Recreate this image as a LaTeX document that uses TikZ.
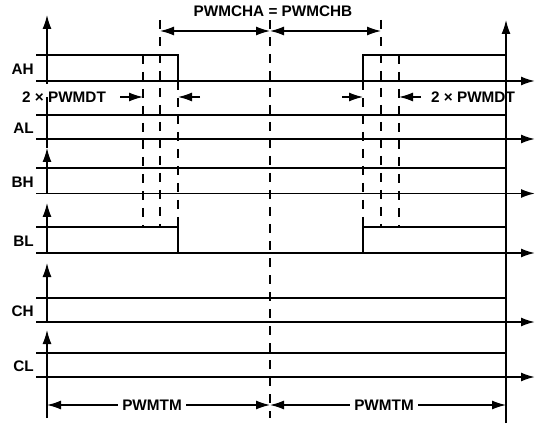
\documentclass[tikz,border=0pt]{standalone}
\usepackage{fontspec}
\setmainfont{Liberation Sans}
\usetikzlibrary{arrows.meta}
\begin{document}
\begin{tikzpicture}[x=1pt,y=-1pt,
  font=\fontsize{15.3}{18}\selectfont\bfseries,
  sig/.style={line width=2.5pt, line join=miter},
  baseln/.style={line width=1.9pt, -{Latex[length=14pt,width=9pt]}},
  axis/.style={line width=1.4pt},
  axtip/.style={line width=1.4pt, -{Latex[length=14pt,width=9pt]}},
  dline/.style={line width=1.4pt, dash pattern=on 9pt off 8pt},
  dim/.style={line width=1.4pt, {Latex[length=14pt,width=9pt]}-{Latex[length=14pt,width=9pt]}},
  ptr/.style={line width=1.4pt, -{Latex[length=14pt,width=9pt]}},
  lbl/.style={inner sep=0pt, text height=10.9pt, text depth=0pt},
  wlbl/.style={lbl, fill=white, inner xsep=4pt, inner ysep=2pt},
]
\useasboundingbox (0,0) rectangle (536,425);

% rows: high / low lines
\foreach \n/\h/\l in {AH/55/81, AL/115/139, BH/168/193.5, BL/227/253, CH/298/322, CL/353/377} {
  \draw[baseln] (36,\l) -- (535,\l);
  \node[lbl, anchor=east] (lab\n) at (34,{(\h+\l)/2+1.5}) {\n};
}
% signals
\draw[sig] (36,55) -- (178,55) -- (178,81) -- (363,81) -- (363,55) -- (506,55);
\draw[sig] (36,227) -- (178,227) -- (178,253) -- (363,253) -- (363,227) -- (506,227);
\foreach \h in {115,168,298,353} \draw[sig] (36,\h) -- (506,\h);

% left axis segments
\draw[axtip] (47,84) -- (47,15);
\draw[axis] (47,97) -- (47,148);
\draw[axtip] (47,193.5) -- (47,148);
\draw[axtip] (47,253) -- (47,203);
\draw[axtip] (47,322) -- (47,263);
\draw[axtip] (47,418) -- (47,330);

% right vertical
\draw[axtip] (506,423) -- (506,20);

% dashed verticals
\draw[dline] (143,55) -- (143,227);
\draw[dline] (160,20) -- (160,227);
\draw[dline] (178,81) -- (178,227);
\draw[dline] (270,20) -- (270,418);
\draw[dline] (363,81) -- (363,227);
\draw[dline] (381,20) -- (381,227);
\draw[dline] (399,55) -- (399,227);

% PWMCHA = PWMCHB
\node[lbl] (chab) at (273,11) {PWMCHA = PWMCHB};
\coordinate (ca) at (160,31);
\coordinate (cm) at (270,31);
\coordinate (cb) at (381,31);
\draw[dim] (ca) -- (cm);
\draw[dim] (cm) -- (cb);

% dead time
\node[lbl] (dtl) at (64,97) {2 × PWMDT};
\node[lbl] (dtr) at (473,97) {2 × PWMDT};
\draw[ptr] (120,97) -- (143,97);
\draw[ptr] (200,97) -- (178,97);
\draw[ptr] (342,97) -- (363,97);
\draw[ptr] (421,97) -- (399,97);

% PWMTM
\coordinate (tl) at (47,405);
\coordinate (tm) at (270,405);
\coordinate (tr) at (506,405);
\draw[dim] (tl) -- (tm);
\draw[dim] (tm) -- (tr);
\node[wlbl] (tm1) at (152,405) {PWMTM};
\node[wlbl] (tm2) at (384,405) {PWMTM};
\end{tikzpicture}
\end{document}
